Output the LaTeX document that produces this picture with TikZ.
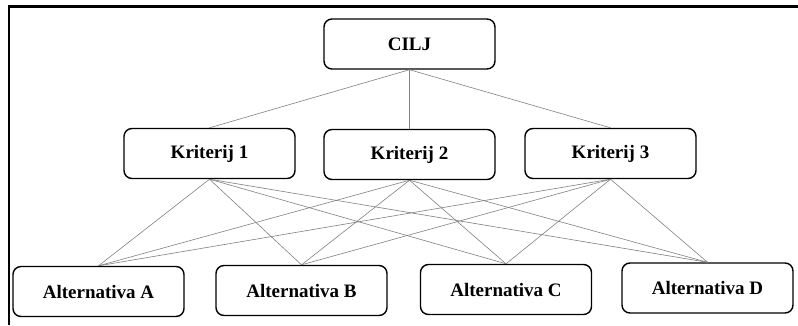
\documentclass[tikz,border=0pt]{standalone}
\usepackage{fontspec}
\setmainfont{Liberation Serif}
\begin{document}
\begin{tikzpicture}[x=1pt,y=-1pt,
  box/.style={draw=black,line width=1.4pt,rounded corners=8pt,minimum width=171pt,minimum height=50pt,inner sep=0pt,font=\fontsize{19}{21}\selectfont\bfseries},
  link/.style={draw=black!50,line width=0.6pt}]
\useasboundingbox (0,0) rectangle (798,325);
\draw[line width=2.2pt] (798,6.5) -- (9,6.5) -- (9,325);
\node[box] (cilj) at (409.5,44) {CILJ};
\node[box] (k1) at (209.5,153.5) {Kriterij 1};
\node[box] (k2) at (409.5,154.5) {Kriterij 2};
\node[box] (k3) at (610.5,153.5) {Kriterij 3};
\node[box] (a) at (98.5,291.5) {Alternativa A};
\node[box] (b) at (301.5,290.5) {Alternativa B};
\node[box] (c) at (506,289.5) {Alternativa C};
\node[box] (d) at (707.5,288) {Alternativa D};
\foreach \k in {k1,k2,k3}{\draw[link] (cilj.south) -- (\k.north);}
\foreach \k in {k1,k2,k3}{\foreach \a in {a,b,c,d}{\draw[link] (\k.south) -- (\a.north);}}
\end{tikzpicture}
\end{document}
